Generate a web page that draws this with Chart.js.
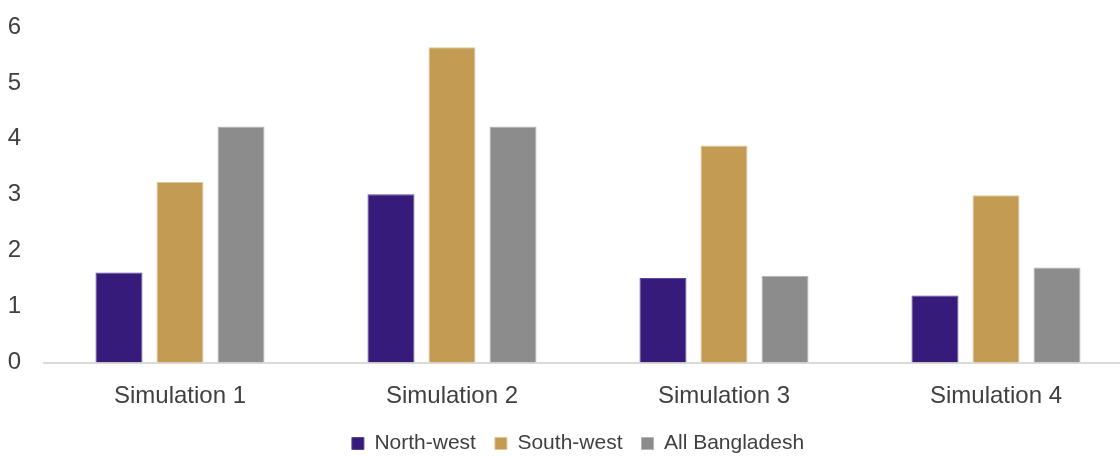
<!DOCTYPE html>
<html>
<head>
<meta charset="utf-8">
<script src="https://cdn.jsdelivr.net/npm/chart.js@4.4.1/dist/chart.umd.min.js"></script>
<style>
  html, body { margin: 0; padding: 0; background: #ffffff; overflow: hidden; }
  #wrap { position: relative; width: 1136px; height: 456px; }
</style>
</head>
<body>
<div id="wrap"><canvas id="chart"></canvas></div>
<script>
const categories = ['Simulation 1', 'Simulation 2', 'Simulation 3', 'Simulation 4'];
const northWest = [1.61, 3.01, 1.51, 1.20];
const southWest = [3.23, 5.64, 3.88, 2.99];
const allBangladesh = [4.22, 4.22, 1.55, 1.70];
const yTicks = [0, 1, 2, 3, 4, 5, 6];

const FONT = "'Liberation Sans', Arial, sans-serif";
const TEXT = '#404040';

// nudge the bottom legend so it sits a little right of the canvas centre
const legendShift = {
  id: 'legendShift',
  afterLayout(chart) {
    const lg = chart.legend;
    if (lg) { lg.left += 12; lg.right += 12; }
  }
};

new Chart(document.getElementById('chart'), {
  type: 'bar',
  data: {
    labels: categories,
    datasets: [
      { label: 'North-west', data: northWest, backgroundColor: '#361b7b', borderColor: '#5a46a0', borderWidth: 1 },
      { label: 'South-west', data: southWest, backgroundColor: '#c39b52', borderColor: '#dcc79a', borderWidth: 1 },
      { label: 'All Bangladesh', data: allBangladesh, backgroundColor: '#8c8c8c', borderColor: '#b4b4b4', borderWidth: 1 }
    ]
  },
  options: {
    responsive: true,
    maintainAspectRatio: false,
    animation: false,
    devicePixelRatio: 1,
    categoryPercentage: 0.673,
    barPercentage: 0.77,
    layout: { padding: { top: 27, right: 4, left: 0, bottom: -8 } },
    plugins: {
      tooltip: { enabled: false },
      legend: {
        position: 'bottom',
        labels: {
          boxWidth: 12,
          boxHeight: 12,
          padding: 19,
          color: TEXT,
          font: { family: FONT, size: 21 }
        }
      }
    },
    scales: {
      x: {
        afterFit(scale) { scale.height = 51.5; },
        grid: { display: false, drawTicks: false },
        border: { display: true, color: '#d9d9d9', width: 2 },
        ticks: { color: TEXT, font: { family: FONT, size: 24 }, padding: 19 }
      },
      y: {
        min: 0,
        max: 6,
        afterBuildTicks(scale) { scale.ticks = yTicks.map(v => ({ value: v })); },
        afterFit(scale) {
          scale.width = 44;
          scale.paddingTop = 0;
          scale.paddingBottom = 0;
        },
        grid: { display: false, drawTicks: false },
        border: { display: false },
        ticks: { color: TEXT, font: { family: FONT, size: 24 }, padding: 23 }
      }
    }
  },
  plugins: [legendShift]
});
</script>
</body>
</html>
